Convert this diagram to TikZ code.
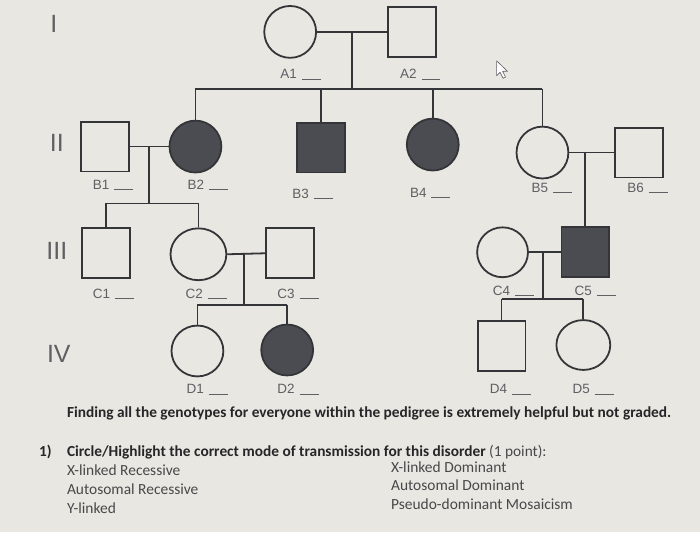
\documentclass[tikz,border=0pt]{standalone}
\usepackage{fontspec}
\setmainfont{Liberation Sans}
\newfontfamily\calib{Carlito}
\usetikzlibrary{shapes.geometric,calc}
\definecolor{bgc}{RGB}{232,231,225}
\definecolor{lnc}{RGB}{52,53,56}
\definecolor{fillc}{RGB}{74,76,82}
\definecolor{txc}{RGB}{38,38,40}
\definecolor{optc}{RGB}{72,72,74}
\definecolor{numc}{RGB}{95,95,100}
\tikzset{
  sq/.style={draw=lnc, line width=1.8pt, rectangle, minimum width=48pt, minimum height=50pt, inner sep=0pt},
  cir/.style={draw=lnc, line width=1.8pt, ellipse, minimum width=52pt, minimum height=52pt, inner sep=0pt},
  aff/.style={fill=fillc},
  ln/.style={draw=lnc, line width=1.8pt},
  lab/.style={anchor=base west, inner sep=0pt, font=\fontsize{13.5}{15}\selectfont, text=numc},
  gen/.style={inner sep=0pt, font=\fontsize{25}{28}\selectfont, text=numc},
  body/.style={anchor=base west, inner sep=0pt, text=txc},
  opt/.style={anchor=base west, inner sep=0pt, text=optc, font=\calib\fontsize{15.5}{17}\selectfont}
}
\newcommand{\blank}{\hspace{5pt}\rule[-0.5pt]{19pt}{0.7pt}}
\begin{document}
\begin{tikzpicture}[x=1pt,y=-1pt]
\fill[bgc] (-1,-1) rectangle (701,533);
\useasboundingbox (0,0) rectangle (700,532);
% generation labels
\node[gen] (gI) at (53,23) {I};
\node[gen] (gII) at (56,142) {II};
\node[gen] (gIII) at (56,251) {III};
\node[gen] (gIV) at (58,354) {IV};
% generation I
\node[cir] (A1) at (290,31) {};
\node[sq] (A2) at (412,31) {};
% generation II
\node[sq] (B1) at (104,146) {};
\node[cir,aff] (B2) at (195,146) {};
\node[sq,aff] (B3) at (321,147) {};
\node[cir,aff] (B4) at (433,144) {};
\node[cir] (B5) at (543,152) {};
\node[sq] (B6) at (640,152) {};
% generation III
\node[sq] (C1) at (105,253) {};
\node[cir,minimum width=56pt] (C2) at (198,254) {};
\node[sq] (C3) at (290,253) {};
\node[cir,minimum width=51pt,minimum height=50pt] (C4) at (503,252) {};
\node[sq,aff] (C5) at (586,252) {};
% generation IV
\node[cir,minimum height=51pt] (D1) at (197,351) {};
\node[cir,aff,minimum height=51pt] (D2) at (287,350) {};
\node[sq] (D4) at (502,346) {};
\node[cir,minimum width=54pt,minimum height=50pt] (D5) at (584,345) {};
% junction coordinates
\coordinate (mA) at ($(A1.east)!0.5!(A2.west)$);
\coordinate (sA) at (352,88);
\coordinate (mB) at ($(B1.east)!0.5!(B2.west)$);
\coordinate (sB) at (150,203);
\coordinate (mC) at ($(C2.east)!0.45!(C3.west)$);
\coordinate (sC) at (245,305);
\coordinate (mB5) at (B5.east -| C5.north);
\coordinate (mC4) at ($(C4.east)!0.45!(C5.west)$);
\coordinate (sC4) at (543,299);
% connectors
\draw[ln] (A1.east) -- (A2.west);
\draw[ln] (mA) -- (sA);
\draw[ln] (B2.north |- sA) -- (B5.north |- sA);
\draw[ln] (B2.north |- sA) -- (B2.north);
\draw[ln] (B3.north |- sA) -- (B3.north);
\draw[ln] (B4.north |- sA) -- (B4.north);
\draw[ln] (B5.north |- sA) -- (B5.north);
\draw[ln] (B1.east) -- (B2.west);
\draw[ln] (mB) -- (mB |- sB);
\draw[ln] (C1.north |- sB) -- (C2.north |- sB);
\draw[ln] (C1.north |- sB) -- (C1.north);
\draw[ln] (C2.north |- sB) -- (C2.north);
\draw[ln] (B5.east) -- (B6.west);
\draw[ln] (mB5) -- (C5.north);
\draw[ln] (C2.east) -- (C3.west);
\draw[ln] (mC) -- (mC |- sC);
\draw[ln] (D1.north |- sC) -- (D2.north |- sC);
\draw[ln] (D1.north |- sC) -- (D1.north);
\draw[ln] (D2.north |- sC) -- (D2.north);
\draw[ln] (C4.east) -- (C5.west);
\draw[ln] (mC4) -- (mC4 |- sC4);
\draw[ln] (D4.north |- sC4) -- (D5.north |- sC4);
\draw[ln] (D4.north |- sC4) -- (D4.north);
\draw[ln] (D5.north |- sC4) -- (D5.north);
% labels
\node[lab] (lA1) at (280,78) {A1\blank};
\node[lab] (lA2) at (400,78) {A2\blank};
\node[lab] (lB1) at (92,189) {B1\blank};
\node[lab] (lB2) at (187,189) {B2\blank};
\node[lab] (lB3) at (292,198) {B3\blank};
\node[lab] (lB4) at (410,197) {B4\blank};
\node[lab] (lB5) at (532,192) {B5\blank};
\node[lab] (lB6) at (628,192) {B6\blank};
\node[lab] (lC1) at (92,298) {C1\blank};
\node[lab] (lC2) at (185,298) {C2\blank};
\node[lab] (lC3) at (277,298) {C3\blank};
\node[lab] (lC4) at (493,295) {C4\blank};
\node[lab] (lC5) at (575,295) {C5\blank};
\node[lab] (lD1) at (186,394) {D1\blank};
\node[lab] (lD2) at (277,394) {D2\blank};
\node[lab] (lD4) at (490,394) {D4\blank};
\node[lab] (lD5) at (573,394) {D5\blank};
% cursor
\draw[numc, line width=0.6pt, fill=white, line join=round] (497,60) -- ++(0,15) -- ++(3.5,-3.5) -- ++(3,6) -- ++(2.5,-1.2) -- ++(-3,-5.8) -- ++(5,0) -- cycle;
% text
\node[body, font=\calib\bfseries\fontsize{15.4}{17}\selectfont] (t1) at (66,418) {Finding all the genotypes for everyone within the pedigree is extremely helpful but not graded.};
\node[body, font=\calib\bfseries\fontsize{15.4}{17}\selectfont] (q1n) at (38,457) {1)};
\node[body, font=\calib\bfseries\fontsize{15.4}{17}\selectfont] (q1) at (66,457) {Circle/Highlight the correct mode of transmission for this disorder {\mdseries\color{optc}(1 point):}};
\node[opt] (o1) at (66,476) {X-linked Recessive};
\node[opt] (o2) at (66,495) {Autosomal Recessive};
\node[opt] (o3) at (66,514) {Y-linked};
\node[opt] (o4) at (391,473) {X-linked Dominant};
\node[opt] (o5) at (391,491) {Autosomal Dominant};
\node[opt] (o6) at (391,510) {Pseudo-dominant Mosaicism};
\end{tikzpicture}
\end{document}
